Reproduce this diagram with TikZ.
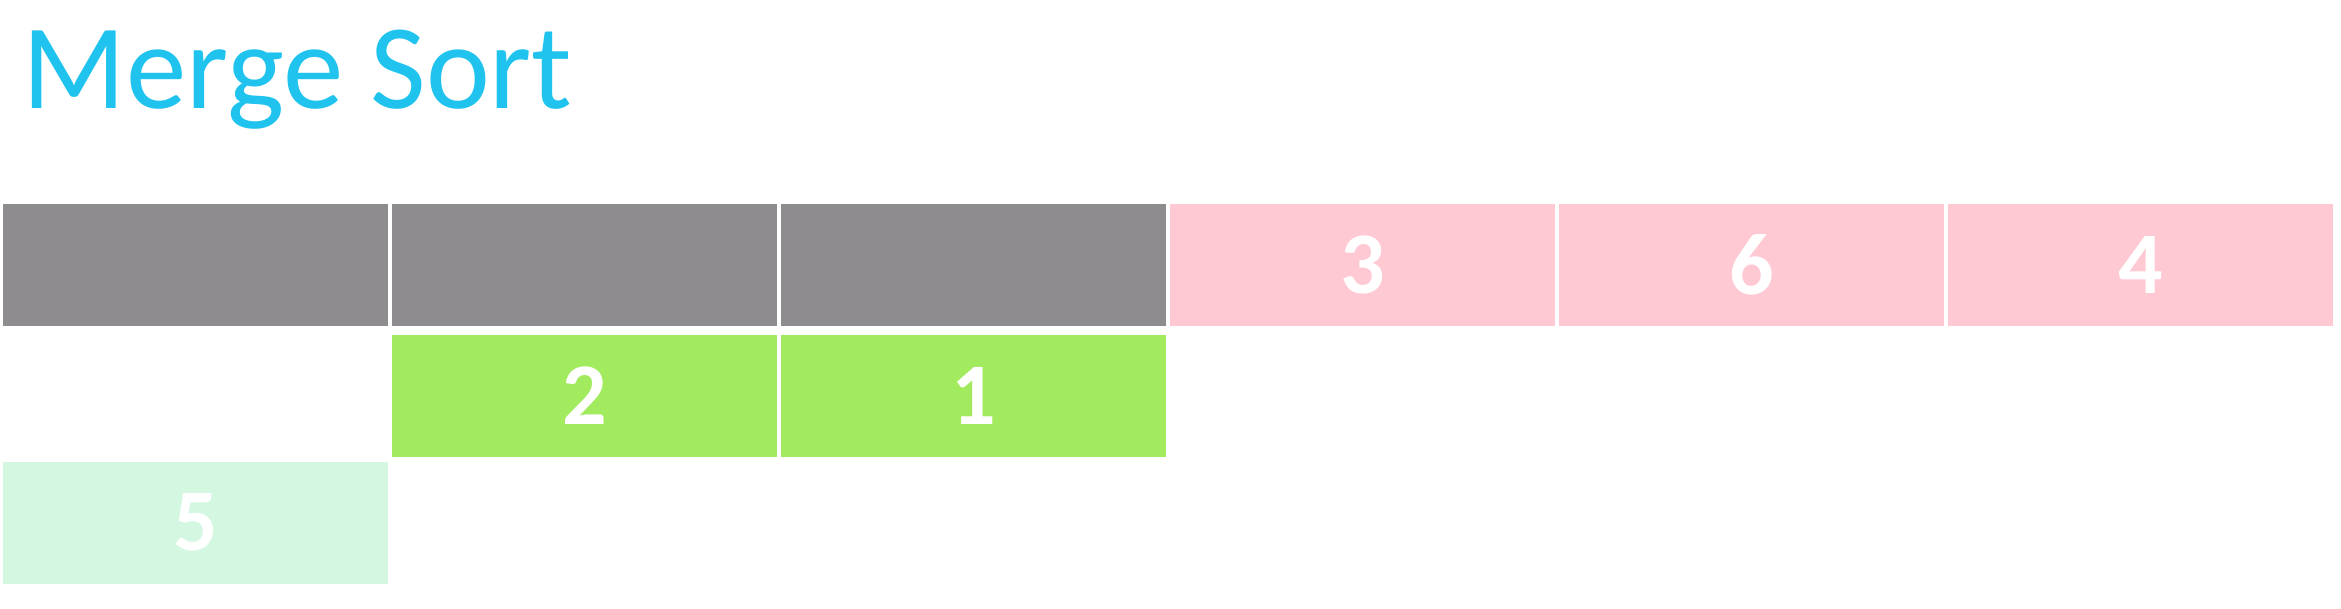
\documentclass[tikz,border=0pt]{standalone}
\usepackage{fontspec}
\setmainfont{Carlito}
\usepackage{tikz}
\usepackage{xcolor}
\definecolor{ciano}{HTML}{1FC3EE}
\definecolor{cinza}{HTML}{8E8C8E}
\definecolor{rosa}{HTML}{FFC9D3}
\definecolor{verde}{HTML}{A3EB5E}
\definecolor{menta}{HTML}{D4F7E2}

\begin{document}
\begin{tikzpicture}[x=0.01cm, y=-0.01cm,
    celula/.style={rectangle, anchor=north west, inner sep=0pt,
        minimum width=3.85cm, minimum height=1.22cm,
        text=white, font=\fontsize{25}{25}\selectfont\bfseries}]
    % Moldura
    \useasboundingbox (0,0) rectangle (2341,608);

    % Título
    \node[anchor=base west, inner sep=0pt, text=ciano,
        font=\fontsize{34.4}{34.4}\selectfont] (titulo) at (22,108) {Merge Sort};

    % Linha 1
    \node[celula, fill=cinza] (c1) at (2,203) {};
    \node[celula, fill=cinza] (c2) at (391,203) {};
    \node[celula, fill=cinza] (c3) at (780,203) {};
    \node[celula, fill=rosa] (c4) at (1169,203) {\raisebox{-0.04cm}{3}};
    \node[celula, fill=rosa] (c5) at (1558,203) {\raisebox{-0.04cm}{6}};
    \node[celula, fill=rosa] (c6) at (1947,203) {\raisebox{-0.04cm}{4}};

    % Linha 2
    \node[celula, fill=verde] (d2) at (391,334) {\raisebox{-0.04cm}{2}};
    \node[celula, fill=verde] (d3) at (780,334) {\raisebox{-0.04cm}{1}};

    % Linha 3
    \node[celula, fill=menta] (e1) at (2,461) {\raisebox{-0.04cm}{5}};
\end{tikzpicture}
\end{document}
